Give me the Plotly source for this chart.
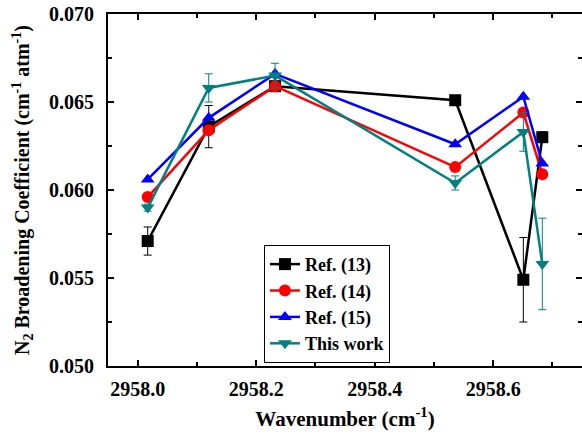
import plotly.graph_objects as go

x_vals = [2958.017, 2958.12, 2958.232, 2958.536, 2958.651, 2958.683]
ref13 = [0.0571, 0.0636, 0.0659, 0.0651, 0.0549, 0.0630]
ref13_err = [0.0008, 0.0012, 0.0, 0.0, 0.0024, 0.0003]
ref14 = [0.0596, 0.0634, 0.0659, 0.0613, 0.0644, 0.0609]
ref15 = [0.0606, 0.0641, 0.0666, 0.0626, 0.0653, 0.0615]
this_work = [0.0590, 0.0658, 0.0665, 0.0604, 0.0633, 0.0558]
this_err = [0.0002, 0.0008, 0.0007, 0.0004, 0.0011, 0.0026]

names = ["Ref. (13)", "Ref. (14)", "Ref. (15)", "This work"]
colors = ["#000000", "#ff0000", "#0000ff", "#008080"]
symbols = ["square", "circle", "triangle-up", "triangle-down"]

x_ticks = [2958.0, 2958.2, 2958.4, 2958.6]
y_ticks = [0.050, 0.055, 0.060, 0.065, 0.070]

font_fam = "Liberation Serif"
bold = dict(family=font_fam, size=20, color="black", weight="bold")

fig = go.Figure()
series = [(ref13, ref13_err), (ref14, None), (ref15, None), (this_work, this_err)]
for (ys, err), name, c, s in zip(series, names, colors, symbols):
    tr = dict(x=x_vals, y=ys, name=name, mode="lines+markers",
              line=dict(color=c, width=2.5),
              marker=dict(color=c, symbol=s, size=12))
    if err is not None:
        tr["error_y"] = dict(type="data", array=err, visible=True, color=c,
                             thickness=1, width=4)
    fig.add_trace(go.Scatter(**tr))

axis_common = dict(showline=True, linecolor="black", linewidth=2, mirror="ticks",
                   ticks="inside", ticklen=6, tickwidth=2, tickcolor="black",
                   showgrid=False, zeroline=False, tickfont=bold, automargin=False)

fig.update_layout(
    width=582, height=434,
    margin=dict(l=108, r=0, t=14, b=68),
    plot_bgcolor="white", paper_bgcolor="white",
    font=dict(family=font_fam, color="black"),
    showlegend=True,
    legend=dict(x=0.329, y=0.344, xanchor="left", yanchor="top",
                bgcolor="white", bordercolor="black", borderwidth=1,
                font=dict(family=font_fam, size=18, color="black", weight="bold"),
                tracegroupgap=0, itemwidth=30),
    xaxis=dict(range=[2957.95, 2958.75], tickvals=x_ticks,
               ticktext=[f"{v:.1f}" for v in x_ticks],
               ticklabelstandoff=4,
               minor=dict(ticks="inside", ticklen=4, tickwidth=2, tickcolor="black", dtick=0.1, tick0=2958.0),
               title=dict(text="Wavenumber (cm<sup>-1</sup>)", font=dict(family=font_fam, size=21, weight="bold"), standoff=12),
               **axis_common),
    yaxis=dict(range=[0.050, 0.070], tickvals=y_ticks,
               ticktext=[f"{v:.3f}" for v in y_ticks],
               ticklabelstandoff=8,
               minor=dict(ticks="inside", ticklen=4, tickwidth=2, tickcolor="black", dtick=0.0025, tick0=0.05),
               title=dict(text="N<sub>2</sub> Broadening Coefficient (cm<sup>-1</sup> atm<sup>-1</sup>)",
                          font=dict(family=font_fam, size=20, weight="bold"), standoff=14),
               **axis_common),
)

fig.write_html("out.html", post_script="document.body.style.margin='0';",
               config={"displayModeBar": False})
